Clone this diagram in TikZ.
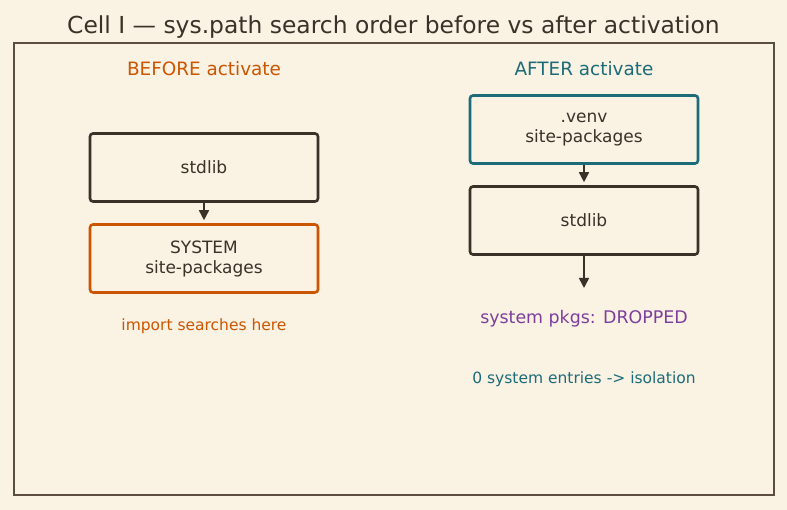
\documentclass[tikz,border=0pt]{standalone}
\usepackage{fontspec}
\setmainfont{DejaVu Sans}
\usetikzlibrary{positioning, arrows.meta}
\definecolor{Paper}{HTML}{FAF2E3}
\definecolor{Ink}{HTML}{3A3128}
\definecolor{Frame}{HTML}{5C4E3E}
\definecolor{Rust}{HTML}{CC5500}
\definecolor{Teal}{HTML}{1B6B78}
\definecolor{Plum}{HTML}{7D3F9C}
\tikzset{
    pathbox/.style={rectangle, rounded corners=3pt, draw=Ink, line width=2.6pt, fill=Paper, text=Ink,
        align=center, minimum width=228pt, minimum height=68pt, font=\fontsize{17}{20}\selectfont},
    colhead/.style={font=\fontsize{18.4}{21}\selectfont},
    note/.style={font=\fontsize{15.5}{18}\selectfont},
    arrow/.style={-{Triangle[length=10pt,width=10pt]}, line width=1.6pt, color=Ink},
}
\begin{document}
\begin{tikzpicture}[x=1pt, y=-1pt]
    % Fond et cadre
    \fill[Paper] (0,0) rectangle (787,510);
    \useasboundingbox (0,0) rectangle (787,510);
    \draw[Frame, line width=1.3pt] (14,43) rectangle (774,495);

    % Titre
    \node[text=Ink, font=\fontsize{23.4}{27}\selectfont] (title) at (393.5,27) {Cell I — sys.path search order before vs after activation};

    % Avant
    \node[colhead, text=Rust] (beforehead) at (204,69) {BEFORE activate};
    \node[pathbox] (stdlibA) at (204,167.5) {stdlib};
    \node[pathbox, draw=Rust] (sysA) at (204,258.5) {SYSTEM\\site-packages};
    \draw[arrow, shorten >=3pt] (stdlibA) -- (sysA);
    \node[note, text=Rust] (hereA) at (204,326) {import searches here};

    % Apres
    \node[colhead, text=Teal] (afterhead) at (584,69) {AFTER activate};
    \node[pathbox, draw=Teal] (venvB) at (584,129.5) {.venv\\site-packages};
    \node[pathbox] (stdlibB) at (584,220.5) {stdlib};
    \draw[arrow, shorten >=3pt] (venvB) -- (stdlibB);
    \coordinate (dropend) at (584,288);
    \draw[arrow] (stdlibB) -- (dropend);
    \node[font=\fontsize{17.4}{20}\selectfont, text=Plum] (dropped) at (584,319) {system pkgs: DROPPED};
    \node[note, text=Teal] (isoB) at (584,379) {0 system entries -> isolation};
\end{tikzpicture}
\end{document}
